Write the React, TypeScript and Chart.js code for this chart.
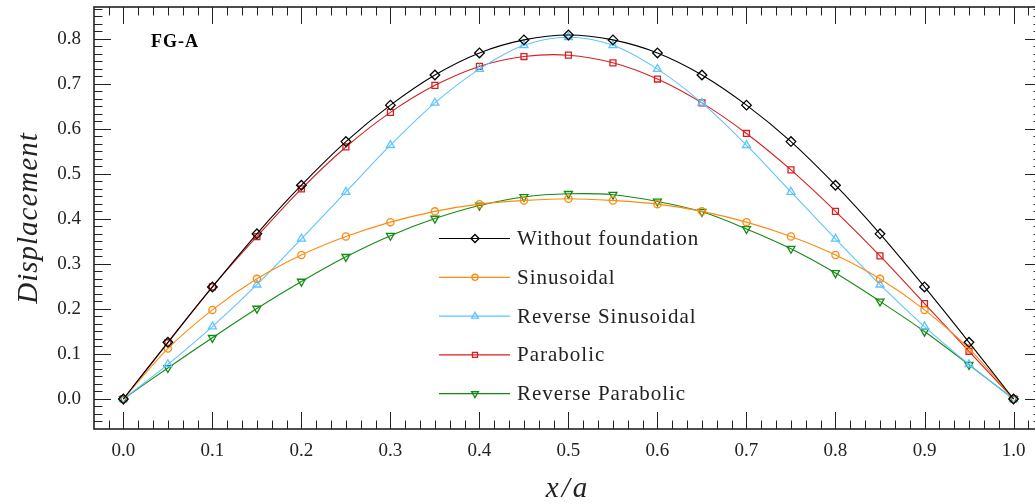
import React, { useEffect, useRef } from 'react';
import { Chart, registerables } from 'chart.js';
import { drawPoint } from 'chart.js/helpers';

Chart.register(...registerables);

// Positions along the plate, x/a
const xValues = [
  0, 0.05, 0.1, 0.15, 0.2, 0.25, 0.3, 0.35, 0.4, 0.45, 0.5,
  0.55, 0.6, 0.65, 0.7, 0.75, 0.8, 0.85, 0.9, 0.95, 1.0,
];

// Displacement for each foundation type
const withoutFoundation = [
  0, 0.126, 0.249, 0.367, 0.475, 0.572, 0.653, 0.72, 0.769, 0.798, 0.809,
  0.798, 0.769, 0.72, 0.653, 0.572, 0.475, 0.367, 0.249, 0.126, 0,
];
const sinusoidal = [
  0, 0.112, 0.198, 0.267, 0.32, 0.361, 0.393, 0.417, 0.433, 0.441, 0.445,
  0.441, 0.433, 0.417, 0.393, 0.361, 0.32, 0.267, 0.198, 0.112, 0,
];
const reverseSinusoidal = [
  0, 0.077, 0.161, 0.254, 0.356, 0.46, 0.564, 0.658, 0.733, 0.786, 0.804,
  0.786, 0.733, 0.658, 0.564, 0.46, 0.356, 0.254, 0.161, 0.077, 0,
];
const parabolic = [
  0, 0.125, 0.249, 0.361, 0.467, 0.56, 0.637, 0.697, 0.739, 0.761, 0.764,
  0.747, 0.711, 0.658, 0.59, 0.509, 0.417, 0.318, 0.212, 0.106, 0,
];
const reverseParabolic = [
  0, 0.069, 0.136, 0.201, 0.261, 0.316, 0.363, 0.401, 0.43, 0.449, 0.456,
  0.454, 0.439, 0.416, 0.378, 0.334, 0.28, 0.217, 0.15, 0.076, 0,
];

const seriesLabels = [
  'Without foundation',
  'Sinusoidal',
  'Reverse Sinusoidal',
  'Parabolic',
  'Reverse Parabolic',
];

const xTickValues = [0, 0.1, 0.2, 0.3, 0.4, 0.5, 0.6, 0.7, 0.8, 0.9, 1.0];
const xTickLabels = ['0.0', '0.1', '0.2', '0.3', '0.4', '0.5', '0.6', '0.7', '0.8', '0.9', '1.0'];
const yTickValues = [0, 0.1, 0.2, 0.3, 0.4, 0.5, 0.6, 0.7, 0.8];
const yTickLabels = ['0.0', '0.1', '0.2', '0.3', '0.4', '0.5', '0.6', '0.7', '0.8'];

const panelLabel = 'FG-A';
const xTitle = 'x/a';
const yTitle = 'Displacement';

const seriesValues = [withoutFoundation, sinusoidal, reverseSinusoidal, parabolic, reverseParabolic];
const seriesColors = ['#000000', '#ff8a10', '#5cc4ff', '#d81e1e', '#138a13'];
const seriesMarkers = [
  { style: 'rectRot', rotation: 0, radius: 4.8 },
  { style: 'circle', rotation: 0, radius: 3.6 },
  { style: 'triangle', rotation: 0, radius: 4.6 },
  { style: 'rect', rotation: 0, radius: 4.2 },
  { style: 'triangle', rotation: 180, radius: 4.6 },
];

const SERIF = '"Liberation Serif", "DejaVu Serif", serif';

const axesPlugin = {
  id: 'framedAxes',
  afterDraw(chart: any) {
    const { ctx, chartArea: a } = chart;
    const xs = chart.scales.x;
    const ys = chart.scales.y;
    const line = (x1: number, y1: number, x2: number, y2: number) => {
      ctx.beginPath();
      ctx.moveTo(x1, y1);
      ctx.lineTo(x2, y2);
      ctx.stroke();
    };
    ctx.save();
    ctx.strokeStyle = '#222';
    ctx.lineWidth = 1;

    // minor ticks every 1/60, major ticks at labelled values
    for (let k = -3; k <= 63; k++) {
      const v = k / 60;
      if (v > xs.min && v < xs.max) {
        const px = Math.round(xs.getPixelForValue(v)) + 0.5;
        const len = k % 6 === 0 && k >= 0 && k <= 60 ? 17 : 8.5;
        line(px, a.bottom, px, a.bottom - len);
        line(px, a.top, px, a.top + len);
      }
      if (v > ys.min && v < ys.max) {
        const py = Math.round(ys.getPixelForValue(v)) + 0.5;
        const len = k % 6 === 0 && k >= 0 && k <= 48 ? 17 : 8.5;
        line(a.left, py, a.left + len, py);
        line(a.right, py, a.right - len, py);
      }
    }

    // frame
    ctx.lineWidth = 1.6;
    ctx.strokeRect(a.left, a.top, a.right - a.left, a.bottom - a.top);

    // tick labels
    ctx.fillStyle = '#222';
    ctx.font = `19px ${SERIF}`;
    ctx.textBaseline = 'middle';
    ctx.textAlign = 'center';
    xTickValues.forEach((v, i) => {
      ctx.fillText(xTickLabels[i], xs.getPixelForValue(v), 451);
    });
    ctx.textAlign = 'right';
    yTickValues.forEach((v, i) => {
      ctx.fillText(yTickLabels[i], 81, ys.getPixelForValue(v));
    });

    // axis titles
    ctx.font = `italic 29px ${SERIF}`;
    ctx.textAlign = 'center';
    (ctx as any).letterSpacing = '3px';
    ctx.fillText(xTitle, (a.left + a.right) / 2, 489);
    (ctx as any).letterSpacing = '1px';
    ctx.save();
    ctx.translate(29, (a.top + a.bottom) / 2);
    ctx.rotate(-Math.PI / 2);
    ctx.fillText(yTitle, 0, 0);
    ctx.restore();

    // panel label
    ctx.font = `bold 18px ${SERIF}`;
    ctx.textAlign = 'left';
    ctx.fillStyle = '#000';
    ctx.fillText(panelLabel, 151, 42);

    // legend
    ctx.font = `21px ${SERIF}`;
    ctx.fillStyle = '#222';
    chart.data.datasets.forEach((ds: any, i: number) => {
      const ly = 238.5 + i * 38.8;
      ctx.strokeStyle = ds.borderColor;
      ctx.lineWidth = 1.2;
      line(439, ly, 510, ly);
      ctx.fillStyle = 'rgba(0,0,0,0)';
      ctx.lineWidth = 1.3;
      drawPoint(ctx, {
        pointStyle: ds.pointStyle,
        rotation: ds.pointRotation,
        radius: ds.pointRadius * 0.85,
        borderWidth: 1.3,
      } as any, 475, ly);
      ctx.fillStyle = '#222';
      ctx.fillText(ds.label, 517, ly + 1);
    });
    ctx.restore();
  },
};

export default function App() {
  const canvasRef = useRef<HTMLCanvasElement>(null);

  useEffect(() => {
    const canvas = canvasRef.current;
    if (!canvas) return;
    const chart = new Chart(canvas, {
      type: 'line',
      data: {
        datasets: seriesValues.map((vals, i) => ({
          label: seriesLabels[i],
          data: xValues.map((x, j) => ({ x, y: vals[j] })),
          borderColor: seriesColors[i],
          borderWidth: 1.1,
          backgroundColor: 'rgba(0,0,0,0)',
          pointBorderColor: seriesColors[i],
          pointBackgroundColor: 'rgba(0,0,0,0)',
          pointBorderWidth: 1.3,
          pointStyle: seriesMarkers[i].style as any,
          pointRotation: seriesMarkers[i].rotation,
          pointRadius: seriesMarkers[i].radius,
          tension: 0.35,
          fill: false,
        })),
      },
      options: {
        responsive: false,
        animation: false,
        devicePixelRatio: 1,
        layout: { padding: { left: 94, right: 8, top: 7, bottom: 75 } },
        scales: {
          x: { type: 'linear', min: -0.033, max: 1.032, display: false },
          y: { type: 'linear', min: -0.0667, max: 0.8711, display: false },
        },
        plugins: {
          legend: { display: false },
          tooltip: { enabled: false },
        },
      },
      plugins: [axesPlugin],
    });
    return () => chart.destroy();
  }, []);

  return (
    <div
      style={{
        position: 'absolute',
        left: 0,
        top: 0,
        width: 1035,
        height: 504,
        overflow: 'hidden',
        background: '#fff',
      }}
    >
      <canvas
        ref={canvasRef}
        width={1050}
        height={504}
        style={{ display: 'block', width: 1050, height: 504 }}
      />
    </div>
  );
}
